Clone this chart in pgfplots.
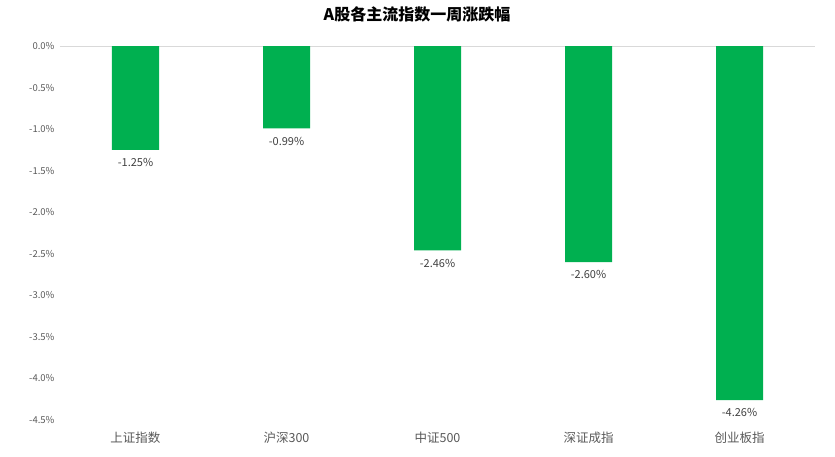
\documentclass[border=0pt]{standalone}
\usepackage{pgfplots}
\pgfplotsset{compat=1.18}
\usepackage{fontspec}
\setmainfont{Noto Sans CJK SC}
\definecolor{bargreen}{HTML}{00B050}
\definecolor{ticktext}{HTML}{595959}
\definecolor{lbltext}{HTML}{404040}
\definecolor{zeroline}{HTML}{D9D9D9}
\begin{document}
\begin{tikzpicture}
% picture is 835 x 456; axis box lower left at (60,420) from top-left
\useasboundingbox (-60pt,-36pt) rectangle (775pt,420pt);
\begin{axis}[
    at={(0pt,0pt)}, anchor=south west,
    scale only axis, width=755pt, height=374pt,
    ybar, bar width=47pt,
    xmin=-0.5, xmax=4.5,
    ymin=-4.5, ymax=0,
    axis line style={draw=none},
    tick style={draw=none},
    xtick=data,
    xticklabels={上证指数,沪深300,中证500,深证成指,创业板指},
    xticklabel style={font=\fontsize{12.5}{14}\selectfont, text=ticktext, yshift=-4pt},
    ytick={-4.5,-4,-3.5,-3,-2.5,-2,-1.5,-1,-0.5,0},
    yticklabels={-4.5\%,-4.0\%,-3.5\%,-3.0\%,-2.5\%,-2.0\%,-1.5\%,-1.0\%,-0.5\%,0.0\%},
    yticklabel style={font=\fontsize{9.5}{11}\selectfont, text=ticktext, xshift=-2pt},
    clip=false,
    point meta=explicit symbolic,
    nodes near coords,
    nodes near coords style={font=\fontsize{11}{13}\selectfont, text=lbltext, anchor=north, yshift=-5pt},
]
\draw[zeroline, line width=0.8pt] (axis cs:-0.5,0) -- (axis cs:4.5,0);
\addplot[fill=bargreen, draw=none] table[meta=label] {
x y label
0 -1.25 -1.25\%
1 -0.99 -0.99\%
2 -2.46 -2.46\%
3 -2.60 -2.60\%
4 -4.26 -4.26\%
};
\end{axis}
\node[font=\fontsize{16}{19}\selectfont\bfseries, anchor=center] at (357pt,406pt) {A股各主流指数一周涨跌幅};
\end{tikzpicture}
\end{document}
